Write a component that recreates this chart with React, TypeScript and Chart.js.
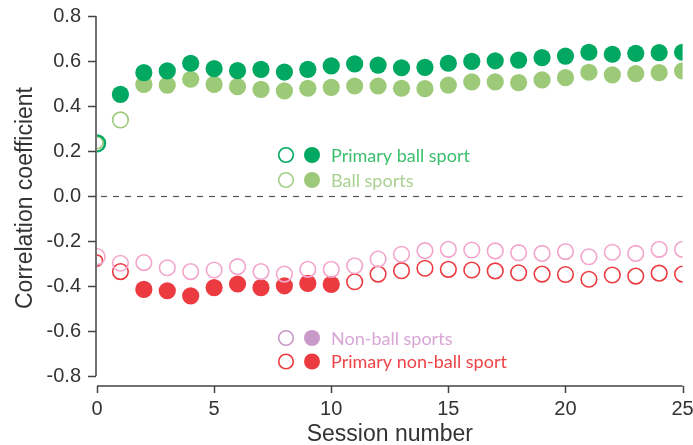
import React, { useEffect, useRef } from "react";
import { Chart, registerables } from "chart.js";

Chart.register(...registerables);

const sessions = [0, 1, 2, 3, 4, 5, 6, 7, 8, 9, 10, 11, 12, 13, 14, 15, 16, 17, 18, 19, 20, 21, 22, 23, 24, 25];

const primaryBall = [0.234, 0.452, 0.548, 0.556, 0.59, 0.566, 0.557, 0.563, 0.551, 0.563, 0.578, 0.587, 0.582, 0.57, 0.572, 0.59, 0.598, 0.601, 0.604, 0.615, 0.622, 0.639, 0.63, 0.634, 0.637, 0.639];
const ballSports = [0.237, 0.338, 0.496, 0.493, 0.519, 0.496, 0.486, 0.474, 0.467, 0.479, 0.483, 0.489, 0.489, 0.479, 0.477, 0.493, 0.507, 0.507, 0.504, 0.516, 0.526, 0.55, 0.538, 0.544, 0.548, 0.556];
const nonBall = [-0.27, -0.299, -0.296, -0.319, -0.336, -0.329, -0.314, -0.336, -0.347, -0.326, -0.326, -0.31, -0.28, -0.259, -0.243, -0.237, -0.24, -0.244, -0.252, -0.255, -0.247, -0.27, -0.25, -0.255, -0.237, -0.237];
const primaryNonBall = [-0.287, -0.336, -0.415, -0.421, -0.444, -0.407, -0.391, -0.407, -0.399, -0.388, -0.393, -0.381, -0.347, -0.332, -0.321, -0.326, -0.329, -0.333, -0.341, -0.347, -0.349, -0.37, -0.351, -0.356, -0.343, -0.347];

// significance flags (filled markers)
const primaryBallSig = [0, 1, 1, 1, 1, 1, 1, 1, 1, 1, 1, 1, 1, 1, 1, 1, 1, 1, 1, 1, 1, 1, 1, 1, 1, 1];
const ballSportsSig = [0, 0, 1, 1, 1, 1, 1, 1, 1, 1, 1, 1, 1, 1, 1, 1, 1, 1, 1, 1, 1, 1, 1, 1, 1, 1];
const nonBallSig = [0, 0, 0, 0, 0, 0, 0, 0, 0, 0, 0, 0, 0, 0, 0, 0, 0, 0, 0, 0, 0, 0, 0, 0, 0, 0];
const primaryNonBallSig = [0, 0, 1, 1, 1, 1, 1, 1, 1, 1, 1, 0, 0, 0, 0, 0, 0, 0, 0, 0, 0, 0, 0, 0, 0, 0];

const seriesNames = ["Primary ball sport", "Ball sports", "Non-ball sports", "Primary non-ball sport"];
const yTicks = [-0.8, -0.6, -0.4, -0.2, 0.0, 0.2, 0.4, 0.6, 0.8];
const xTicks = [0, 5, 10, 15, 20, 25];

const COLORS = {
  primaryBall: "#00A862",
  ballSports: "#9DCA78",
  nonBall: "#F2A6CB",
  primaryNonBall: "#EC3B40",
};

const LEGEND = [
  { name: seriesNames[0], ring: "#00A862", fill: "#00A862", text: "#3CBF6C" },
  { name: seriesNames[1], ring: "#A3CF86", fill: "#9DCA78", text: "#A9D18F" },
  { name: seriesNames[2], ring: "#C99AC9", fill: "#C99AC9", text: "#D9A6D6" },
  { name: seriesNames[3], ring: "#EC3B40", fill: "#EC3B40", text: "#EE4448" },
];

const AXIS = "#444444";
const TEXT = "#333333";

function makeDataset(label: string, values: number[], sig: number[], color: string, firstRadius: number, firstBorder: number) {
  return {
    label,
    data: values.map((v, i) => ({ x: sessions[i], y: v })),
    pointBackgroundColor: sig.map((s) => (s ? color : "rgba(255,255,255,0)")),
    pointBorderColor: color,
    pointBorderWidth: sig.map((s, i) => (i === 0 ? firstBorder : s ? 0 : 1.6)),
    pointRadius: sig.map((s, i) => (i === 0 ? firstRadius : s ? 8.6 : 7.8)),
    pointHoverRadius: sig.map((s, i) => (i === 0 ? firstRadius : s ? 8.6 : 7.8)),
    showLine: false,
  };
}

const decorPlugin = {
  id: "decor",
  beforeDatasetsDraw(chart: any) {
    const ctx = chart.ctx;
    const xs = chart.scales.x;
    const ys = chart.scales.y;
    const y0 = Math.round(ys.getPixelForValue(0)) + 0.5;
    ctx.save();
    ctx.strokeStyle = "#555555";
    ctx.lineWidth = 1.2;
    ctx.setLineDash([6, 6]);
    ctx.beginPath();
    ctx.moveTo(xs.getPixelForValue(0) + 4, y0);
    ctx.lineTo(xs.getPixelForValue(25), y0);
    ctx.stroke();
    ctx.restore();
  },
  afterDraw(chart: any) {
    const ctx = chart.ctx;
    const xs = chart.scales.x;
    const ys = chart.scales.y;
    const area = chart.chartArea;
    ctx.save();
    ctx.strokeStyle = AXIS;
    ctx.lineWidth = 1.5;
    // y axis
    const yAxisX = area.left - 1;
    ctx.beginPath();
    ctx.moveTo(yAxisX, ys.getPixelForValue(0.8));
    ctx.lineTo(yAxisX, ys.getPixelForValue(-0.8));
    for (const t of yTicks) {
      const p = Math.round(ys.getPixelForValue(t)) + 0.5;
      ctx.moveTo(yAxisX - 8, p);
      ctx.lineTo(yAxisX, p);
    }
    ctx.stroke();
    // x axis (detached)
    const xAxisY = area.bottom + 10;
    ctx.beginPath();
    ctx.moveTo(xs.getPixelForValue(0), xAxisY);
    ctx.lineTo(xs.getPixelForValue(25), xAxisY);
    for (const t of xTicks) {
      const p = Math.round(xs.getPixelForValue(t)) + 0.5;
      ctx.moveTo(p, xAxisY);
      ctx.lineTo(p, xAxisY + 7);
    }
    ctx.stroke();

    // axis titles
    ctx.fillStyle = TEXT;
    ctx.font = "23px 'Liberation Sans', Arial, sans-serif";
    ctx.textAlign = "center";
    ctx.textBaseline = "alphabetic";
    ctx.fillText("Session number", (area.left + area.right) / 2, 441);
    ctx.save();
    ctx.translate(32, (ys.getPixelForValue(0.8) + ys.getPixelForValue(-0.8)) / 2 + 2);
    ctx.rotate(-Math.PI / 2);
    ctx.fillText("Correlation coefficient", 0, 0);
    ctx.restore();

    // legend
    const rows = [
      { item: LEGEND[0], y: 155 },
      { item: LEGEND[1], y: 180 },
      { item: LEGEND[2], y: 338 },
      { item: LEGEND[3], y: 361.5 },
    ];
    ctx.font = "18px Lato, 'Open Sans', sans-serif";
    ctx.textAlign = "left";
    ctx.textBaseline = "middle";
    for (const r of rows) {
      ctx.lineWidth = 1.6;
      ctx.strokeStyle = r.item.ring;
      ctx.beginPath();
      ctx.arc(286, r.y, 7.3, 0, Math.PI * 2);
      ctx.stroke();
      ctx.fillStyle = r.item.fill;
      ctx.beginPath();
      ctx.arc(312, r.y, 8, 0, Math.PI * 2);
      ctx.fill();
      ctx.fillStyle = r.item.text;
      ctx.fillText(r.item.name, 331, r.y + 1);
    }
    ctx.restore();
  },
};

export default function App() {
  const ref = useRef<HTMLCanvasElement | null>(null);
  useEffect(() => {
    if (!ref.current) return;
    const chart = new Chart(ref.current, {
      type: "scatter",
      data: {
        datasets: [
          makeDataset(seriesNames[0], primaryBall, primaryBallSig, COLORS.primaryBall, 8, 2.4),
          makeDataset(seriesNames[1], ballSports, ballSportsSig, COLORS.ballSports, 6, 1.6),
          makeDataset(seriesNames[2], nonBall, nonBallSig, COLORS.nonBall, 8, 1.6),
          makeDataset(seriesNames[3], primaryNonBall, primaryNonBallSig, COLORS.primaryNonBall, 5.5, 1.6),
        ],
      },
      options: {
        animation: false,
        responsive: false,
        maintainAspectRatio: false,
        layout: { padding: { left: 0, right: 10, top: 16, bottom: 0 } },
        plugins: { legend: { display: false }, tooltip: { enabled: false } },
        scales: {
          x: {
            type: "linear",
            min: 0,
            max: 25,
            grid: { display: false, drawTicks: false },
            border: { display: false },
            afterBuildTicks: (scale: any) => {
              scale.ticks = xTicks.map((v) => ({ value: v }));
            },
            afterFit: (scale: any) => {
              scale.height = 69;
              scale.paddingLeft = 0;
              scale.paddingRight = 0;
              scale.paddingTop = 0;
              scale.paddingBottom = 0;
            },
            ticks: {
              color: TEXT,
              padding: 21,
              maxRotation: 0,
              autoSkip: false,
              font: { family: "'Liberation Sans', Arial, sans-serif", size: 20 },
              callback: (v: any) => String(v),
            },
          },
          y: {
            type: "linear",
            min: -0.8,
            max: 0.8,
            grid: { display: false, drawTicks: false },
            border: { display: false },
            afterBuildTicks: (scale: any) => {
              scale.ticks = yTicks.map((v) => ({ value: v }));
            },
            afterFit: (scale: any) => {
              scale.width = 97;
              scale.paddingLeft = 0;
              scale.paddingRight = 0;
              scale.paddingTop = 0;
              scale.paddingBottom = 0;
            },
            ticks: {
              color: TEXT,
              padding: 16,
              autoSkip: false,
              font: { family: "'Liberation Sans', Arial, sans-serif", size: 20 },
              callback: (v: any) => Number(v).toFixed(1),
            },
          },
        },
      },
      plugins: [decorPlugin],
    });
    return () => chart.destroy();
  }, []);
  return (
    <div style={{ position: "fixed", left: 0, top: 0, width: 693, height: 445, background: "#fff" }}>
      <canvas ref={ref} width={693} height={445} style={{ width: 693, height: 445, display: "block" }} />
    </div>
  );
}
